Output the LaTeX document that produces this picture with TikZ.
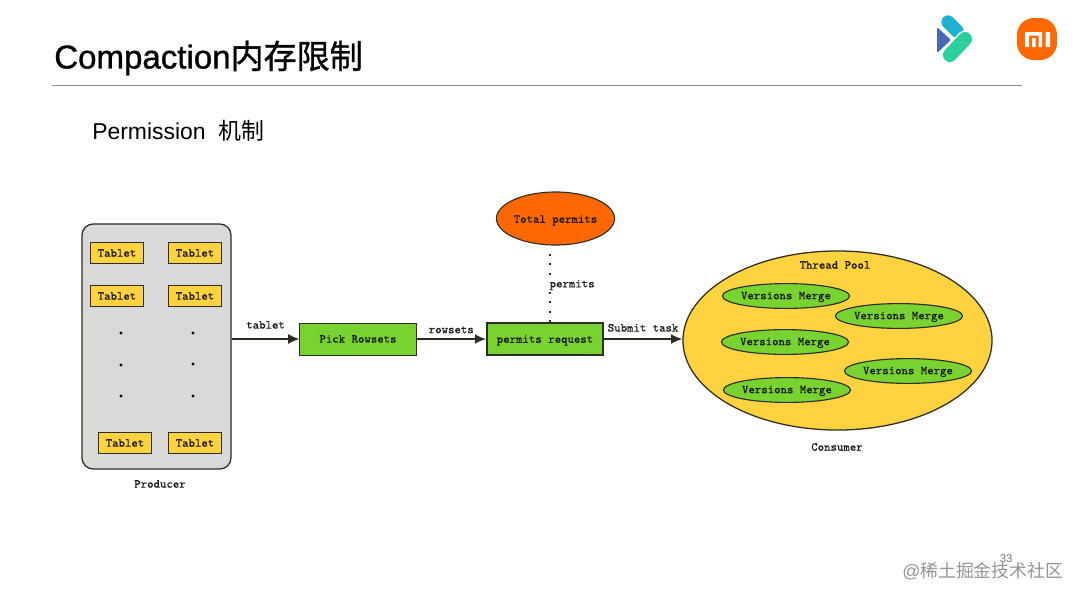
\documentclass[tikz,border=0pt]{standalone}
\usepackage{fontspec}
\setmainfont{Liberation Sans}
\newfontfamily\cjk{Noto Sans CJK SC}
\newfontfamily\titlefont[FakeBold=1]{Liberation Sans}
\newfontfamily\titlecjk[FakeBold=1]{Noto Sans CJK SC}
\newfontfamily\diagfont[FakeBold=0.1]{Latin Modern Mono}
\usetikzlibrary{shapes.geometric,arrows.meta}
\definecolor{tabletyellow}{RGB}{255,210,64}
\definecolor{pickgreen}{RGB}{120,210,48}
\definecolor{poolgray}{RGB}{217,217,217}
\definecolor{totalorange}{RGB}{255,104,0}
\definecolor{linedark}{RGB}{45,45,35}
\definecolor{logoblue}{RGB}{76,102,184}
\definecolor{logoteal}{RGB}{30,178,208}
\definecolor{logogreen}{RGB}{44,208,160}
\definecolor{miorange}{RGB}{255,105,0}
\tikzstyle{diagtext} = [font=\diagfont\fontsize{8.7pt}{10pt}\selectfont, text=black!90, inner sep = 0pt]
\tikzstyle{tablet} = [ draw=linedark, fill=tabletyellow, rectangle, line width=1pt, minimum width=1.33cm, minimum height=0.53cm, diagtext]
\tikzstyle{stage} = [ draw=linedark, fill=pickgreen, rectangle, line width=0.7pt, minimum width=2.9cm, minimum height=0.8cm, diagtext]
\tikzstyle{merge} = [ draw=linedark, fill=pickgreen, ellipse, line width=0.8pt, minimum width=3.13cm, minimum height=0.62cm, diagtext, text height=6pt, text depth=1.4pt]
\tikzstyle{dotmark} = [ fill=black, circle, inner sep = 0pt, minimum size = 2.4pt]
\tikzstyle{edge} = [-{Latex[length=8pt,width=7pt]}, line width=1pt, draw=linedark]

\begin{document}
\begin{tikzpicture}[x=0.025cm,y=-0.025cm]
	\useasboundingbox (0,0) rectangle (1080,600);

	% slide header
	\node[anchor=west, inner sep=0pt, font=\fontsize{23.5pt}{28pt}\selectfont] (title) at ( 54, 58 ) {\titlefont Compaction{\titlecjk 内存限制}};
	\draw[draw=black!45, line width=0.6pt] (52,85) -- (1022,85);
	\node[anchor=west, inner sep=0pt, font=\fontsize{16.3pt}{20pt}\selectfont] (subtitle) at ( 92, 131 ) {Permission\ \ {\cjk 机制}};

	% logos
	\fill[logoblue, rounded corners=1pt] (937,27) -- (951,40) -- (937,53) -- cycle;
	\draw[white, line width=11pt, line cap=round] (948,22) -- (957,31);
	\draw[logoteal, line width=9.5pt, line cap=round] (948,22) -- (957,31);
	\draw[white, line width=12pt, line cap=round] (965,39) -- (950,55);
	\draw[logogreen, line width=10pt, line cap=round] (965,39) -- (950,55);
	\fill[miorange, rounded corners=12pt] (1017,18) rectangle (1057,60);
	\fill[white] (1025,32) rectangle (1042,35.5) (1025,32) rectangle (1029,47) (1032,38) rectangle (1035.5,47) (1038.5,32) rectangle (1042,47) (1045.5,32) rectangle (1050,47);

	% producer
	\node[draw=linedark, fill=poolgray, rectangle, rounded corners=8pt, line width=0.9pt, minimum width=3.725cm, minimum height=6.125cm] (producer) at ( 156.5, 346.5 ) {};
	\node[tablet] (t1) at ( 117, 253 ) {Tablet};
	\node[tablet] (t2) at ( 195, 253 ) {Tablet};
	\node[tablet] (t3) at ( 117, 296 ) {Tablet};
	\node[tablet] (t4) at ( 195, 296 ) {Tablet};
	\node[tablet] (t5) at ( 125, 443 ) {Tablet};
	\node[tablet] (t6) at ( 195, 443 ) {Tablet};
	\node[dotmark] (d1) at ( 121, 333 ) {};
	\node[dotmark] (d2) at ( 121, 365 ) {};
	\node[dotmark] (d3) at ( 121, 396 ) {};
	\node[dotmark] (d4) at ( 193, 333 ) {};
	\node[dotmark] (d5) at ( 193, 364 ) {};
	\node[dotmark] (d6) at ( 193, 396 ) {};
	\node[diagtext] (producerlabel) at ( 160, 484 ) {Producer};

	% pipeline
	\node[stage] (pick) at ( 358, 339 ) {Pick Rowsets};
	\node[stage, line width=1.3pt, text height=7.4pt, text depth=1.9pt] (request) at ( 545, 339 ) {permits request};
	\node[draw=linedark, fill=totalorange, ellipse, line width=0.8pt, minimum width=2.925cm, minimum height=1.325cm, diagtext, text height=8pt, text depth=1.9pt] (total) at ( 555.5, 218.5 ) {Total permits};
	\coordinate (dotstop) at ( 550, 323 );
	\coordinate (dotstart) at ( 550, 254 );

	% consumer
	\node[draw=linedark, fill=tabletyellow, ellipse, line width=0.9pt, minimum width=7.725cm, minimum height=4.475cm] (pool) at ( 837.5, 340.5 ) {};
	\node[diagtext] (poollabel) at ( 835, 265 ) {Thread Pool};
	\node[merge] (m1) at ( 786, 296 ) {Versions Merge};
	\node[merge] (m2) at ( 899, 316 ) {Versions Merge};
	\node[merge] (m3) at ( 785, 342 ) {Versions Merge};
	\node[merge] (m4) at ( 908, 371 ) {Versions Merge};
	\node[merge] (m5) at ( 787, 390 ) {Versions Merge};
	\node[diagtext] (consumerlabel) at ( 837, 447 ) {Consumer};

	\draw[edge](producer.east |- pick.west) -- (pick.west) node[midway, above, yshift=0.24cm, diagtext]{tablet};
	\draw[edge](pick) -- (request) node[midway, above, yshift=0.125cm, diagtext]{rowsets};
	\draw[edge](request) -- (request.east -| pool.west) node[midway, above, yshift=0.165cm, diagtext]{Submit task};
	\draw[line width=1pt, draw=linedark, dash pattern=on 1.2pt off 5.55pt](dotstart) -- (dotstop);
	\node[diagtext, anchor=west, fill=white, inner sep=1pt] (permitslabel) at ( 548, 285 ) {permits};

	% footer
	\node[inner sep=0pt, text=black!55, font=\fontsize{8pt}{9pt}\selectfont] (pagenum) at ( 1006, 559 ) {33};
	\node[anchor=west, inner sep=0pt, text=black!42, font=\fontsize{12.7pt}{15pt}\selectfont] (watermark) at ( 902, 571 ) {@{\cjk 稀土掘金技术社区}};
\end{tikzpicture}
\end{document}
